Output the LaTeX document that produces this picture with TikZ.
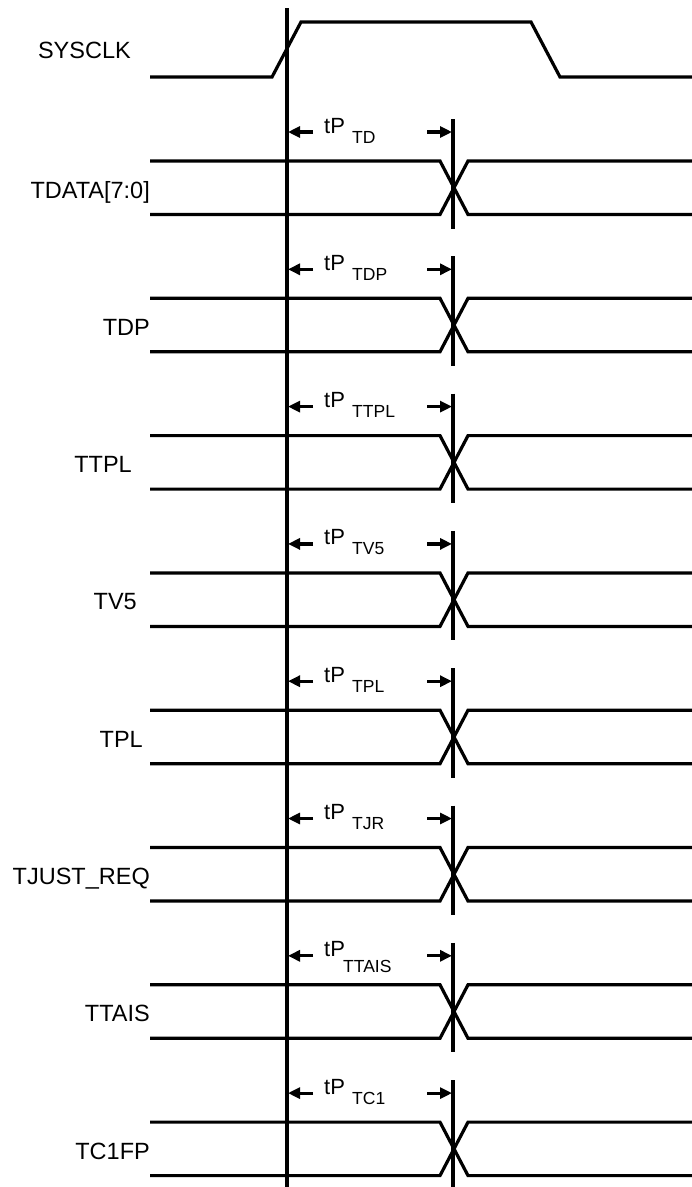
\documentclass[tikz,border=0pt]{standalone}
\usepackage{fontspec}
\setmainfont{Liberation Sans}
\usetikzlibrary{arrows.meta}
\begin{document}
\begin{tikzpicture}[x=1pt,y=-1pt,
  sig/.style={line width=3.2pt},
  lbl/.style={anchor=base east, inner sep=0pt, font=\fontsize{23.5}{28}\selectfont},
  tp/.style={anchor=base west, inner sep=0pt, font=\fontsize{22}{26}\selectfont},
  sub/.style={anchor=base west, inner sep=0pt, font=\fontsize{17.5}{21}\selectfont},
  dim/.style={line width=3.2pt, -{Triangle[length=12pt,width=11pt]}}]
\useasboundingbox (0,0) rectangle (692,1187);
% SYSCLK
\draw[sig] (150,77) -- (272,77) -- (301,22) -- (531,22) -- (560,77) -- (692,77);
\node[lbl] (sysclk) at (131,58) {SYSCLK};
% reference line
\coordinate (reftop) at (287,8);
\coordinate (refbot) at (287,1187);
\draw[sig] (reftop) -- (refbot);
\foreach \k/\name/\lx/\sub/\sx/\sy in {0/{TDATA[7:0]}/150/TD/352/11, 1/TDP/150/TDP/352/11, 2/TTPL/132/TTPL/352/11, 3/TV5/137/TV5/352/11, 4/TPL/143/TPL/352/11, 5/{TJUST\_REQ}/150/TJR/352/11, 6/TTAIS/150/TTAIS/343/17, 7/TC1FP/150/TC1/352/11}
{
  \pgfmathsetmacro\t{161+137.3*\k}
  \pgfmathsetmacro\b{\t+53.5}
  \pgfmathsetmacro\a{\t-29}
  \draw[sig] (150,\t) -- (440,\t) -- (468,\b) -- (692,\b);
  \draw[sig] (150,\b) -- (440,\b) -- (468,\t) -- (692,\t);
  \coordinate (vt\k) at (453,\a-13);
  \coordinate (vb\k) at (453,\b+14);
  \draw[sig] (vt\k) -- (vb\k);
  \node[lbl] (lbl\k) at (\lx,\t+37) {\name};
  \coordinate (la\k) at (313,\a);
  \coordinate (lt\k) at (288,\a);
  \coordinate (ra\k) at (427,\a);
  \coordinate (rt\k) at (452,\a);
  \draw[dim] (la\k) -- (lt\k);
  \draw[dim] (ra\k) -- (rt\k);
  \node[tp] (tp\k) at (324,\a+1) {tP};
  \node[sub] (sub\k) at (\sx,\a+\sy) {\sub};
}
\end{tikzpicture}
\end{document}
